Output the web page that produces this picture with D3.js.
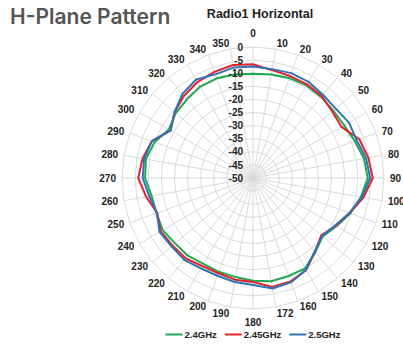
<!DOCTYPE html>
<html><head><meta charset="utf-8">
<script src="https://cdn.jsdelivr.net/npm/d3@7"></script>
<style>body{margin:0;background:#fff}svg{display:block}</style>
</head><body>
<svg id="c" width="403" height="345"></svg>
<script>
const angleLabels = ["0","10","20","30","40","50","60","70","80","90","100","110","120","130","140","150","160","172","180","190","200","210","220","230","240","250","260","270","280","290","300","310","320","330","340","350"];
const radialTicks = [0,-5,-10,-15,-20,-25,-30,-35,-40,-45,-50];
const seriesNames = ["2.4GHz","2.45GHz","2.5GHz"];
const colors = ["#1ea84f","#e4222b","#2d74b6"];
const ghz24 = [-10.2,-9.9,-9.4,-9.2,-9.6,-10,-9.8,-8.7,-7,-6.2,-8.2,-10.5,-13.2,-15.3,-13,-10.2,-10.2,-10,-10.8,-11.6,-11.9,-12.2,-11.3,-11.2,-10.2,-10.8,-10.7,-8.8,-8.5,-10,-12.9,-11.5,-10.8,-9.7,-9.5,-9.9];
const ghz245 = [-6.6,-8.2,-8.6,-8.7,-9.2,-10.5,-11,-6.8,-5.3,-4.3,-7.2,-10.8,-13.5,-16,-13.2,-9.4,-8,-7.8,-10.3,-10.6,-11.3,-11.2,-10,-9.9,-9.3,-11.1,-8.6,-6.2,-7.2,-8.9,-13.7,-10.9,-9,-7.7,-6.9,-6.2];
const ghz25 = [-7.4,-7.8,-7.4,-7.6,-8.5,-8.8,-7.7,-7.9,-6.2,-5.3,-7.8,-10.9,-13.8,-15.5,-13.4,-9.6,-7.6,-7.2,-9.2,-9.7,-10.3,-10.2,-9.2,-9.4,-8.8,-11,-9.8,-7.9,-7.8,-8.9,-13.7,-10.9,-8.1,-6.6,-7.9,-7.2];
const seriesData = [ghz24, ghz245, ghz25];

const svg = d3.select("#c");
const cx = 253, cy = 178, R = 131;
const FONT = "'Liberation Sans', Arial, sans-serif";

const r = d3.scaleLinear().domain([-50, 0]).range([0, R]);
const ang = d3.scaleBand().domain(angleLabels).range([0, 2*Math.PI]).align(0).paddingInner(0).paddingOuter(0);
const aOf = lab => ang(lab);
const pt = (lab, v) => { const a = aOf(lab); return [cx + r(v)*Math.sin(a), cy - r(v)*Math.cos(a)]; };

const g = svg.append("g");
// rings (polygons)
radialTicks.filter(t => t > -50).forEach(t => {
  g.append("path")
    .attr("d", d3.line()(angleLabels.map(l => pt(l, t))) + "Z")
    .attr("fill", "none").attr("stroke", "#d9d9d9").attr("stroke-width", 1);
});
// spokes
angleLabels.forEach(l => {
  const p = pt(l, 0);
  g.append("line").attr("x1", cx).attr("y1", cy).attr("x2", p[0]).attr("y2", p[1])
    .attr("stroke", "#d9d9d9").attr("stroke-width", 1);
});

// series
const line = d3.line();
seriesData.forEach((vals, i) => {
  const pts = angleLabels.map((l, k) => pt(l, vals[k]));
  svg.append("path").attr("d", line(pts) + "Z")
    .attr("fill", "none").attr("stroke", colors[i]).attr("stroke-width", 2)
    .attr("stroke-linejoin", "round");
});

// radial labels
radialTicks.forEach(t => {
  svg.append("text").attr("x", cx - 10).attr("y", cy - r(t) + 3.6)
    .attr("text-anchor", "end").attr("font-family", FONT).attr("font-weight", "bold")
    .attr("font-size", 10).attr("fill", "#222").text(t);
});

// angle labels
angleLabels.forEach(l => {
  const a = aOf(l), s = Math.sin(a), c = Math.cos(a);
  const d = R + 6;
  let x = cx + d*s, y = cy - d*c, anchor;
  if (Math.abs(s) < 0.01) { anchor = "middle"; y += (c > 0 ? -7.5 : 7.5); }
  else anchor = s > 0 ? "start" : "end";
  svg.append("text").attr("x", x).attr("y", y + 3.6).attr("text-anchor", anchor)
    .attr("font-family", FONT).attr("font-weight", "bold").attr("font-size", 10)
    .attr("fill", "#222").text(l);
});

// titles
svg.append("text").attr("x", 10).attr("y", 24).attr("font-family", "Inter, 'Noto Sans', sans-serif")
  .attr("font-weight", 600).attr("font-size", 21).attr("fill", "#555").text("H-Plane Pattern");
svg.append("text").attr("x", 260).attr("y", 18).attr("text-anchor", "middle").attr("font-family", FONT)
  .attr("font-weight", "bold").attr("font-size", 12.5).attr("fill", "#222").text("Radio1 Horizontal");

// legend
const lg = svg.append("g");
let lx = 0;
seriesNames.forEach((n, i) => {
  const it = lg.append("g").attr("transform", `translate(${lx},0)`);
  it.append("line").attr("x1", 0).attr("x2", 17).attr("y1", -3.5).attr("y2", -3.5)
    .attr("stroke", colors[i]).attr("stroke-width", 2);
  const t = it.append("text").attr("x", 19).attr("y", 0).attr("font-family", FONT)
    .attr("font-weight", "bold").attr("font-size", 9.5).attr("fill", "#222").text(n);
  lx += 19 + t.node().getComputedTextLength() + 8;
});
const tot = lx - 8;
lg.attr("transform", `translate(${cx - tot/2},338)`);
</script>
</body></html>
